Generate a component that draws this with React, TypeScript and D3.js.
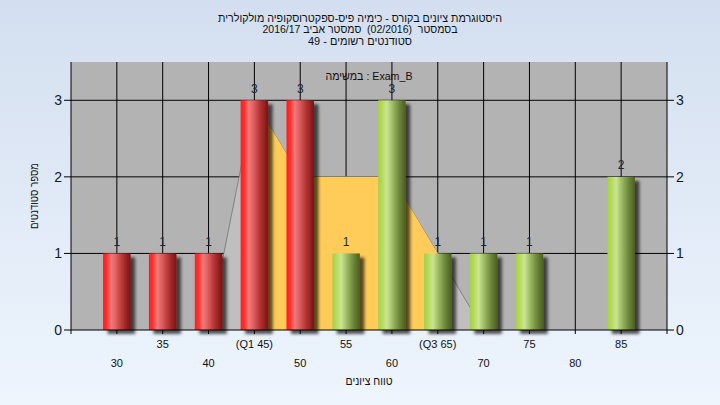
import React from "react";
import * as d3 from "d3";

const categories = [30, 35, 40, 45, 50, 55, 60, 65, 70, 75, 80, 85];
const counts = [1, 1, 1, 3, 3, 1, 3, 1, 1, 1, 0, 2];
const tickLabels = ["30", "35", "40", "(Q1 45)", "50", "55", "60", "(Q3 65)", "70", "75", "80", "85"];
const barGroups = ["fail", "fail", "fail", "fail", "fail", "pass", "pass", "pass", "pass", "pass", "pass", "pass"];
const curveX = [40, 45, 50, 55, 60, 65, 70];
const curveY = [0, 3, 2, 2, 2, 1, 0];
const quartiles = [45, 65];
const yTicks = [0, 1, 2, 3];
const titleLines = [
  "היסטוגרמת ציונים בקורס - כימיה פיס-ספקטרוסקופיה מולקולרית",
  "בסמסטר  (02/2016)  סמסטר אביב 2016/17",
  "סטודנטים רשומים - 49",
];
const titleWidths = [284, 195, 104];
const seriesLabel = "במשימה : Exam_B";
const xTitle = "טווח ציונים";
const yTitle = "מספר סטודנטים";

const W = 720;
const H = 405;
const L = 71, R = 667, T = 62, B = 330;
const FONT = "'Liberation Sans', Arial, sans-serif";

export default function App() {
  const x = d3.scaleLinear().domain([25, 90]).range([L, R]);
  const y = d3.scaleLinear().domain([0, 3.5]).range([B, T]);
  const step = x(35) - x(30);
  const bw = step * 0.6;

  const pts = curveX.map((v, i) => [v, curveY[i]] as [number, number]);
  const area = d3
    .area<[number, number]>()
    .x((d) => x(d[0]))
    .y0(y(0))
    .y1((d) => y(d[1]));
  const line = d3
    .line<[number, number]>()
    .x((d) => x(d[0]))
    .y((d) => y(d[1]));
  const iqr = pts.filter((d) => d[0] >= quartiles[0] && d[0] <= quartiles[1]);

  return (
    <svg
      width={W}
      height={H}
      style={{ position: "absolute", left: 0, top: 0, fontFamily: FONT }}
    >
      <defs>
        <linearGradient id="bg" x1="0" y1="0" x2="0" y2="1">
          <stop offset="0%" stopColor="#d3dff0" />
          <stop offset="100%" stopColor="#eef5fd" />
        </linearGradient>
        <linearGradient id="gRed" x1="0" y1="0" x2="1" y2="0">
          <stop offset="0%" stopColor="#ff1c1c" />
          <stop offset="14%" stopColor="#ff3333" />
          <stop offset="30%" stopColor="#f27a7a" />
          <stop offset="45%" stopColor="#e06262" />
          <stop offset="70%" stopColor="#b53535" />
          <stop offset="100%" stopColor="#7a1212" />
        </linearGradient>
        <linearGradient id="gGreen" x1="0" y1="0" x2="1" y2="0">
          <stop offset="0%" stopColor="#a6d048" />
          <stop offset="14%" stopColor="#b4da5c" />
          <stop offset="32%" stopColor="#cbe592" />
          <stop offset="50%" stopColor="#a2bf6a" />
          <stop offset="75%" stopColor="#708a3c" />
          <stop offset="100%" stopColor="#4a5e1e" />
        </linearGradient>
        <filter id="shadow" x="-30%" y="-10%" width="180%" height="130%">
          <feDropShadow dx="4.5" dy="4" stdDeviation="1.6" floodColor="#000" floodOpacity="0.65" />
        </filter>
      </defs>

      <rect x={0} y={0} width={W} height={H} fill="url(#bg)" />

      {titleLines.map((t, i) => (
        <text
          key={i}
          x={W / 2}
          y={21.5 + i * 11.5}
          textAnchor="middle"
          fontSize={11}
          fill="#111"
          textLength={titleWidths[i]}
          lengthAdjust="spacingAndGlyphs"
          style={{ whiteSpace: "pre" }}
        >
          {t}
        </text>
      ))}

      <rect x={L} y={T} width={R - L} height={B - T} fill="#b3b3b3" />

      {yTicks.slice(1).map((v) => (
        <line key={"hg" + v} x1={L} x2={R} y1={y(v)} y2={y(v)} stroke="#000" strokeWidth={1} />
      ))}
      {categories.map((c) => (
        <line key={"vg" + c} x1={x(c)} x2={x(c)} y1={T} y2={B} stroke="#000" strokeWidth={1} />
      ))}

      <path d={area(pts) || ""} fill="#bfbfbf" />
      <path d={line(pts) || ""} fill="none" stroke="#6a6a6a" strokeWidth={0.7} />
      <path d={area(iqr) || ""} fill="#ffcc5a" />

      <text
        x={x(57.5)}
        y={80}
        textAnchor="middle"
        fontSize={11.5}
        fill="#1a0a12"
        textLength={87}
        lengthAdjust="spacingAndGlyphs"
      >
        {seriesLabel}
      </text>

      {categories.map((c, i) =>
        counts[i] > 0 ? (
          <rect
            key={"b" + c}
            x={x(c) - bw / 2}
            y={y(counts[i])}
            width={bw}
            height={y(0) - y(counts[i])}
            fill={barGroups[i] === "fail" ? "url(#gRed)" : "url(#gGreen)"}
            filter="url(#shadow)"
          />
        ) : null
      )}

      {categories.map((c, i) =>
        counts[i] > 0 ? (
          <text
            key={"bl" + c}
            x={x(c)}
            y={y(counts[i]) - 7.5}
            textAnchor="middle"
            fontSize={12}
            fill="#1c2430"
          >
            {counts[i]}
          </text>
        ) : null
      )}

      <line x1={L} x2={L} y1={T} y2={B + 4} stroke="#000" />
      <line x1={R} x2={R} y1={T} y2={B + 4} stroke="#000" />
      <line x1={L} x2={R} y1={B} y2={B} stroke="#000" />

      {categories.map((c) => (
        <line key={"xt" + c} x1={x(c)} x2={x(c)} y1={B} y2={B + 4} stroke="#000" />
      ))}
      {categories.map((c, i) => (
        <text
          key={"xl" + c}
          x={x(c)}
          y={i % 2 === 1 ? 348 : 367}
          textAnchor="middle"
          fontSize={11}
          fill="#111"
        >
          {tickLabels[i]}
        </text>
      ))}

      {yTicks.map((v) => (
        <g key={"yt" + v}>
          <line x1={L - 7} x2={L} y1={y(v)} y2={y(v)} stroke="#000" />
          <line x1={R} x2={R + 7} y1={y(v)} y2={y(v)} stroke="#000" />
          <text x={L - 9} y={y(v) + 5} textAnchor="end" fontSize={14} fill="#101828">
            {v}
          </text>
          <text x={R + 9} y={y(v) + 5} textAnchor="start" fontSize={14} fill="#101828">
            {v}
          </text>
        </g>
      ))}

      <text
        x={(L + R) / 2}
        y={385}
        textAnchor="middle"
        fontSize={11.5}
        fill="#111"
        textLength={47}
        lengthAdjust="spacingAndGlyphs"
      >
        {xTitle}
      </text>
      <text
        transform={`translate(38, ${(T + B) / 2}) rotate(-90)`}
        textAnchor="middle"
        fontSize={11}
        fill="#111"
        textLength={66}
        lengthAdjust="spacingAndGlyphs"
      >
        {yTitle}
      </text>
    </svg>
  );
}
